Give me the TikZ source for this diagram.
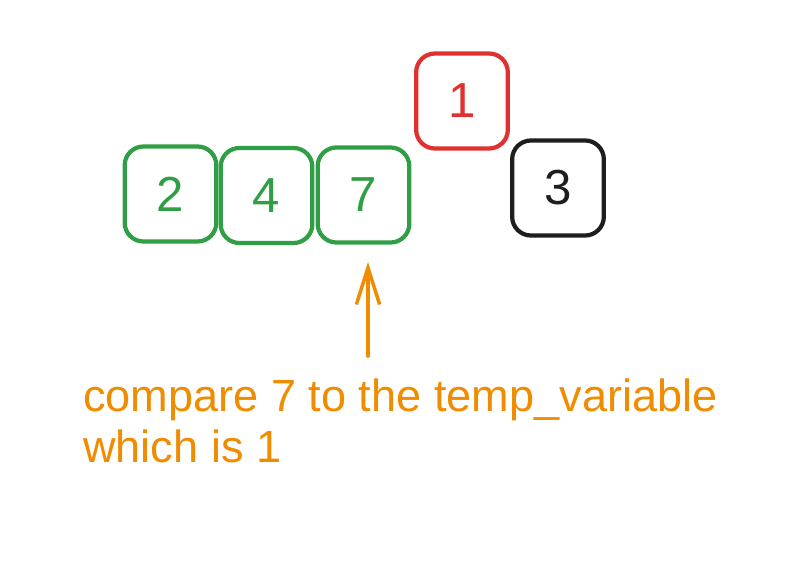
\documentclass[tikz,border=0pt]{standalone}
\usepackage{fontspec}
\setmainfont{Liberation Sans}
\usepackage{xcolor}
\usepackage{tikz}
\usetikzlibrary{arrows.meta,positioning,calc}
\definecolor{sortgreen}{HTML}{2F9E44}
\definecolor{sortred}{HTML}{E03131}
\definecolor{sortblack}{HTML}{1E1E1E}
\definecolor{sortorange}{HTML}{F08C00}
\tikzstyle{cell} = [rectangle, draw, line width=3.6pt, rounded corners=16pt,
    minimum width=2.75cm, minimum height=2.85cm, inner sep=0pt, font=\fontsize{42}{46}\selectfont]
\tikzstyle{note} = [anchor=west, inner sep=0pt, text=sortorange, font=\fontsize{38.5}{43}\selectfont]
\tikzstyle{arrow} = [-{Straight Barb[length=11mm,width=7mm,line width=3pt]}, line width=3.2pt, sortorange, line cap=round]

\begin{document}
\begin{tikzpicture}[x=0.03cm, y=-0.03cm]
\useasboundingbox (0,0) rectangle (802,586);
% sorted part
\node[cell, draw=sortgreen, text=sortgreen] (c2) at (170.5,194) {2};
\node[cell, draw=sortgreen, text=sortgreen] (c4) at (266.5,195.5) {4};
\node[cell, draw=sortgreen, text=sortgreen] (c7) at (363.5,195) {7};
% temp variable and next element
\node[cell, draw=sortred, text=sortred] (temp) at (462,101) {1};
\node[cell, draw=sortblack, text=sortblack] (c3) at (558,188) {3};

\node[note] (line1) at (83,400) {compare 7 to the temp\_variable};
\node[note] (line2) at (83,446) {which is 1};

\coordinate (tail) at (368,356);
\coordinate (tip) at (368,262);
\draw[arrow] (tail) -- (tip);
\end{tikzpicture}
\end{document}
